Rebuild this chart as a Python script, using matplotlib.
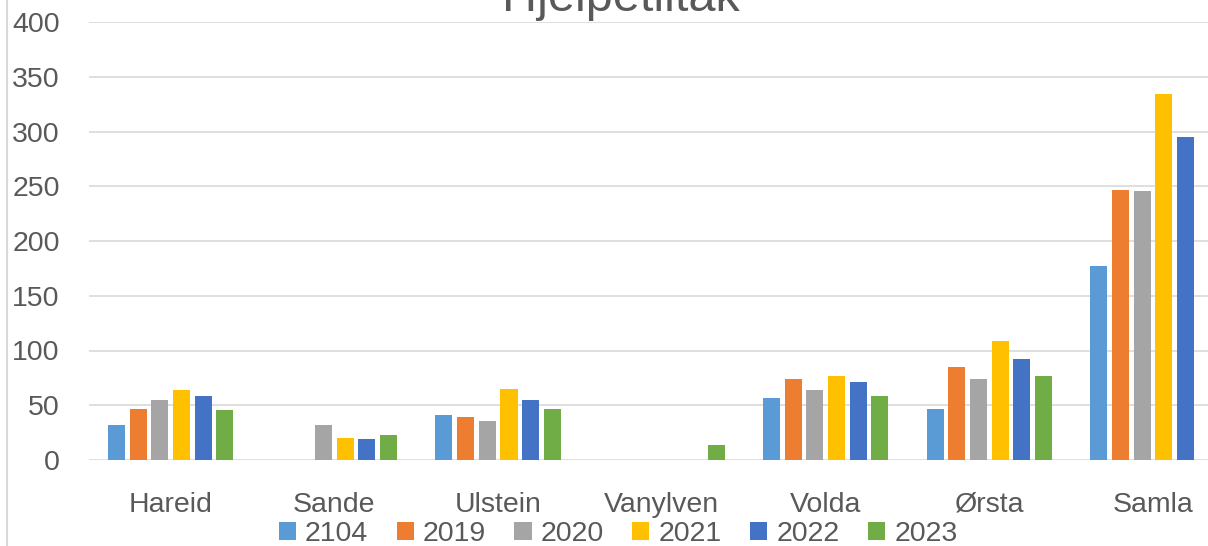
import numpy as np
import matplotlib
matplotlib.use("Agg")
import matplotlib.pyplot as plt
from matplotlib.lines import Line2D
from matplotlib.patches import Patch

nan = np.nan

kommunar = ["Hareid", "Sande", "Ulstein", "Vanylven", "Volda", "Ørsta", "Samla"]
aar = ["2104", "2019", "2020", "2021", "2022", "2023"]

v2104 = [32, nan, 41, nan, 57, 47, 177]
v2019 = [47, nan, 39, nan, 74, 85, 247]
v2020 = [55, 32, 36, nan, 64, 74, 246]
v2021 = [64, 20, 65, nan, 77, 109, 334]
v2022 = [58, 19, 55, nan, 71, 92, 295]
v2023 = [46, 23, 47, 14, 58, 77, nan]  # Samla 2023 ikkje synleg i biletet

serier = [v2104, v2019, v2020, v2021, v2022, v2023]
fargar = ["#5B9BD5", "#ED7D31", "#A5A5A5", "#FFC000", "#4472C4", "#70AD47"]

tekst = "#595959"
grid = "#D9D9D9"
plt.rcParams["font.family"] = ["Liberation Sans", "DejaVu Sans"]

fig = plt.figure(figsize=(12.08, 5.46), dpi=100)
ax = fig.add_axes([88.8 / 1208, 86 / 546, (1235 - 88.8) / 1208, 438 / 546])

x = np.arange(len(kommunar))
pitch = 0.1325
for i, (vals, c) in enumerate(zip(serier, fargar)):
    ax.bar(x + (i - 2.5) * pitch, vals, width=0.104, color=c, zorder=3)

ax.set_xlim(-0.5, 6.5)
ax.set_ylim(0, 400)
ax.set_yticks(range(0, 401, 50))
ax.set_xticks(x)
ax.set_xticklabels([])
ax.grid(axis="y", color=grid, linewidth=1.2, zorder=0)
ax.set_axisbelow(True)
for s in ax.spines.values():
    s.set_visible(False)
ax.tick_params(axis="y", length=0, pad=21, labelsize=20.5, labelcolor=tekst)
ax.tick_params(axis="x", length=0)

# category names on a common baseline (Ø would push Ørsta down otherwise)
for xi, namn in zip(x, kommunar):
    ax.text(xi, -51.5 / 438, namn, transform=ax.get_xaxis_transform(),
            ha="center", va="baseline", fontsize=20.5, color=tekst)

# title is cut at the top edge in the original too
fig.text(621 / 1208, 1 - 11 / 546, "Hjelpetiltak", ha="center", va="baseline",
         fontsize=35, color=tekst)

handles = [Patch(facecolor=c, edgecolor="none") for c in fargar]
fig.legend(handles, aar, loc="center", bbox_to_anchor=(618 / 1208, 12 / 546),
           ncol=6, frameon=False, fontsize=20.5, labelcolor=tekst,
           handlelength=0.6, handleheight=0.6, handletextpad=0.32,
           columnspacing=1.0, borderpad=0, borderaxespad=0)

fig.add_artist(Line2D([7.5 / 1208, 7.5 / 1208], [0, 1], color=grid, linewidth=1.5,
                      transform=fig.transFigure))

fig.savefig("out.png", dpi=100)
